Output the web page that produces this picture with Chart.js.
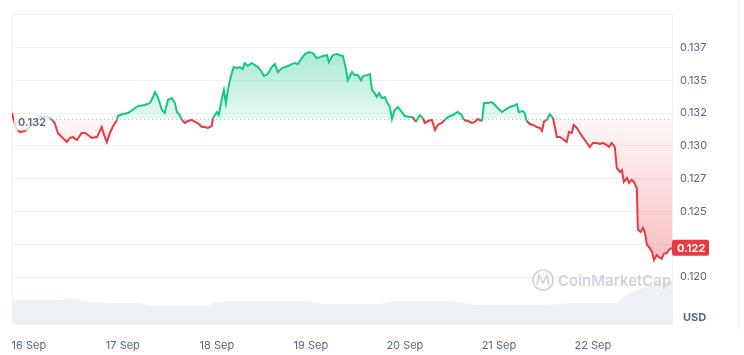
<!DOCTYPE html>
<html lang="en">
  <head>
    <meta charset="UTF-8" />
    <meta name="viewport" content="width=device-width, initial-scale=1.0" />
    <title>Price chart</title>
    <style>
      html, body { margin: 0; padding: 0; background: #fff; }
    </style>
  </head>
  <body>
    <canvas id="myChart" width="744" height="355"></canvas>
  </body>
</html>
<script src="https://cdn.jsdelivr.net/npm/chart.js"></script>

<script>
  // hours counted from 15 Sep 00:00
  const hours = [
    19.7, 20.7, 21.7, 23.0, 24.3, 25.8, 26.8, 28.1, 28.9, 29.9,
    30.6, 31.4, 32.4, 33.7, 34.5, 35.2, 36.3, 37.5, 38.3, 39.1,
    40.1, 41.4, 42.6, 43.2, 43.9, 44.7, 45.4, 46.5, 46.7, 48.0,
    49.3, 50.5, 51.8, 53.6, 54.9, 55.7, 56.2, 56.9, 58.0, 58.7,
    59.5, 60.5, 61.3, 61.8, 62.5, 63.1, 63.8, 64.6, 65.6, 66.4,
    67.1, 68.2, 68.9, 69.7, 70.7, 71.0, 72.0, 72.5, 73.3, 73.8,
    74.3, 74.8, 75.8, 76.3, 77.1, 77.9, 78.6, 79.1, 79.9, 80.9,
    81.7, 82.5, 83.5, 84.0, 85.0, 86.0, 86.8, 87.6, 88.6, 89.4,
    90.1, 91.1, 91.9, 92.7, 93.7, 94.5, 95.5, 96.5, 97.5, 98.3,
    99.1, 100.1, 100.6, 101.6, 102.6, 103.4, 104.2, 104.9, 105.4, 106.5,
    107.2, 108.0, 108.8, 109.3, 110.3, 111.1, 111.6, 112.3, 112.8, 113.4,
    114.1, 114.9, 115.4, 116.2, 116.7, 117.4, 118.2, 119.2, 120.0, 121.3,
    122.0, 122.8, 123.8, 124.6, 125.1, 125.9, 126.9, 127.7, 128.4, 129.4,
    130.2, 131.0, 132.2, 133.5, 134.5, 135.1, 136.1, 137.1, 137.9, 138.6,
    139.7, 140.2, 141.2, 142.2, 143.0, 143.7, 144.8, 145.5, 146.8, 147.6,
    148.6, 149.1, 150.1, 150.6, 151.1, 151.9, 152.7, 153.7, 154.5, 155.0,
    155.5, 156.2, 157.0, 157.8, 158.3, 158.8, 159.6, 160.3, 161.3, 161.9,
    162.6, 163.1, 163.9, 164.7, 165.4, 166.5, 167.2, 168.0, 169.0, 169.8,
    170.5, 171.6, 172.1, 172.8, 173.6, 174.1, 174.9, 175.4, 175.9, 176.7,
    177.2, 177.9, 178.5, 179.2, 179.5, 180.2, 180.8, 181.3, 181.8, 182.3,
    183.1, 183.6, 184.3, 184.8, 185.6, 186.1, 186.9, 187.4, 188.2
  ];
  const prices = [
    0.13250, 0.13136, 0.13105, 0.13113, 0.13143, 0.13189, 0.13220, 0.13220, 0.13220, 0.13197,
    0.13174, 0.13098, 0.13067, 0.13029, 0.13060, 0.13067, 0.13045, 0.13098, 0.13098, 0.13083,
    0.13060, 0.13067, 0.13143, 0.13083, 0.13029, 0.13098, 0.13143, 0.13197, 0.13227, 0.13242,
    0.13250, 0.13273, 0.13303, 0.13311, 0.13326, 0.13372, 0.13410, 0.13372, 0.13273, 0.13250,
    0.13349, 0.13364, 0.13326, 0.13258, 0.13235, 0.13197, 0.13174, 0.13189, 0.13197, 0.13182,
    0.13174, 0.13143, 0.13143, 0.13136, 0.13151, 0.13212, 0.13258, 0.13235, 0.13364, 0.13425,
    0.13326, 0.13425, 0.13554, 0.13600, 0.13592, 0.13600, 0.13585, 0.13631, 0.13608, 0.13631,
    0.13615, 0.13600, 0.13562, 0.13532, 0.13547, 0.13600, 0.13623, 0.13562, 0.13592, 0.13600,
    0.13608, 0.13623, 0.13631, 0.13623, 0.13669, 0.13699, 0.13714, 0.13707, 0.13669, 0.13676,
    0.13684, 0.13691, 0.13638, 0.13691, 0.13699, 0.13691, 0.13684, 0.13592, 0.13501, 0.13562,
    0.13539, 0.13539, 0.13501, 0.13532, 0.13539, 0.13547, 0.13425, 0.13402, 0.13372, 0.13402,
    0.13364, 0.13372, 0.13334, 0.13296, 0.13204, 0.13273, 0.13296, 0.13258, 0.13227, 0.13220,
    0.13220, 0.13182, 0.13235, 0.13212, 0.13174, 0.13189, 0.13197, 0.13121, 0.13159, 0.13174,
    0.13197, 0.13220, 0.13235, 0.13258, 0.13235, 0.13197, 0.13189, 0.13174, 0.13182, 0.13204,
    0.13189, 0.13326, 0.13326, 0.13334, 0.13311, 0.13288, 0.13258, 0.13273, 0.13296, 0.13303,
    0.13318, 0.13258, 0.13265, 0.13250, 0.13189, 0.13166, 0.13159, 0.13143, 0.13136, 0.13113,
    0.13182, 0.13197, 0.13242, 0.13212, 0.13143, 0.13067, 0.13067, 0.13052, 0.13029, 0.13105,
    0.13098, 0.13159, 0.13136, 0.13098, 0.13067, 0.13022, 0.12991, 0.13022, 0.13022, 0.13014,
    0.13022, 0.13006, 0.12991, 0.13022, 0.12991, 0.12831, 0.12801, 0.12816, 0.12725, 0.12755,
    0.12717, 0.12740, 0.12725, 0.12679, 0.12360, 0.12344, 0.12375, 0.12337, 0.12245, 0.12230,
    0.12192, 0.12131, 0.12169, 0.12154, 0.12139, 0.12177, 0.12185, 0.12207, 0.12223
  ];

  const volHours = [19.7, 32.4, 34.7, 37.8, 44.4, 52.3, 54.9, 70.0, 71.2, 77.1, 95.2, 99.1,
    113.6, 117.2, 131.7, 137.9, 156.0, 162.1, 174.1, 177.4, 181.3, 185.1, 188.2];
  const volumes = [25, 25, 27, 24, 22, 22, 19, 19, 23, 24, 24, 21,
    21, 24, 24, 20, 20, 22, 22, 32, 38, 43, 44];

  const dayTicks = [24, 48, 72, 96, 120, 144, 168];
  const dayLabels = ["16 Sep", "17 Sep", "18 Sep", "19 Sep", "20 Sep", "21 Sep", "22 Sep"];

  const yTicks = [0.12, 0.1225, 0.125, 0.1275, 0.13, 0.1325, 0.135, 0.1375, 0.14];
  const yLabels = ["0.120", "", "0.125", "0.127", "0.130", "0.132", "0.135", "0.137", ""];

  const basePrice = 0.13202;
  const baseLabel = "0.132";
  const lastLabel = "0.122";

  const green = "#16c784";
  const red = "#ea3943";
  const grey = "#58667e";
  const font = "Inter, 'Noto Sans', sans-serif";

  Chart.defaults.font.family = font;

  const overlay = {
    id: "overlay",
    beforeDatasetsDraw(chart) {
      const { ctx, chartArea: a, scales } = chart;
      const by = Math.round(scales.y.getPixelForValue(basePrice)) + 0.5;
      ctx.save();
      ctx.strokeStyle = "#eff2f5";
      ctx.lineWidth = 1;
      ctx.beginPath();
      ctx.moveTo(a.left + 0.5, a.top);
      ctx.lineTo(a.left + 0.5, a.bottom);
      ctx.moveTo(738.5, 0);
      ctx.lineTo(738.5, 330);
      ctx.stroke();
      ctx.strokeStyle = "#b8c0cf";
      ctx.setLineDash([1, 3]);
      ctx.beginPath();
      ctx.moveTo(a.left, by);
      ctx.lineTo(a.right, by);
      ctx.stroke();
      ctx.restore();
    },
    afterDatasetsDraw(chart) {
      const { ctx, chartArea: a, scales } = chart;
      const by = scales.y.getPixelForValue(basePrice);
      const ly = scales.y.getPixelForValue(prices[prices.length - 1]);
      ctx.save();

      // base price label on the left
      ctx.font = "600 11px " + font;
      const w = ctx.measureText(baseLabel).width;
      ctx.fillStyle = "rgba(255,255,255,0.75)";
      ctx.fillRect(a.left + 2, by - 5, w + 8, 16);
      ctx.fillStyle = grey;
      ctx.textBaseline = "middle";
      ctx.fillText(baseLabel, a.left + 6, by + 3);

      // watermark
      ctx.strokeStyle = "#cfd4dc";
      ctx.lineWidth = 1.6;
      ctx.beginPath();
      ctx.arc(543, 280, 10, 0, Math.PI * 2);
      ctx.stroke();
      ctx.beginPath();
      ctx.moveTo(537, 285);
      ctx.lineTo(539, 275);
      ctx.lineTo(543, 283);
      ctx.lineTo(547, 275);
      ctx.lineTo(549, 285);
      ctx.stroke();
      ctx.fillStyle = "#cfd4dc";
      ctx.font = "600 15px " + font;
      ctx.textAlign = "left";
      ctx.fillText("CoinMarketCap", 558, 281);

      // current price badge
      ctx.fillStyle = red;
      ctx.beginPath();
      ctx.roundRect(a.right, ly - 8, 37, 16, 2);
      ctx.fill();
      ctx.fillStyle = "#fff";
      ctx.font = "700 11px " + font;
      ctx.fillText(lastLabel, a.right + 5, ly + 0.5);

      // unit
      ctx.fillStyle = grey;
      ctx.font = "700 11px " + font;
      ctx.fillText("USD", a.right + 11, 318);
      ctx.restore();
    },
  };

  const ctx = document.getElementById("myChart").getContext("2d");
  const myChart = new Chart(ctx, {
    type: "line",
    data: {
      datasets: [
        {
          data: hours.map((h, i) => ({ x: h, y: prices[i] })),
          yAxisID: "y",
          borderColor: green,
          borderWidth: 2,
          pointRadius: 0,
          tension: 0,
          order: 1,
          segment: {
            borderColor: (s) => ((s.p0.parsed.y + s.p1.parsed.y) / 2 >= basePrice ? green : red),
          },
          fill: (c) => {
            const chart = c.chart;
            const a = chart.chartArea;
            const y = chart.scales.y;
            if (!a || !y) {
              return { value: basePrice, above: "rgba(22,199,132,0.2)", below: "rgba(234,57,67,0.1)" };
            }
            const by = y.getPixelForValue(basePrice);
            const g = chart.ctx.createLinearGradient(0, a.top + 30, 0, by);
            g.addColorStop(0, "rgba(22,199,132,0.40)");
            g.addColorStop(1, "rgba(22,199,132,0.10)");
            const r = chart.ctx.createLinearGradient(0, by, 0, y.getPixelForValue(Math.min(...prices)));
            r.addColorStop(0, "rgba(234,57,67,0.04)");
            r.addColorStop(1, "rgba(234,57,67,0.32)");
            return { value: basePrice, above: g, below: r };
          },
        },
        {
          data: volHours.map((h, i) => ({ x: h, y: volumes[i] })),
          yAxisID: "v",
          borderWidth: 0,
          pointRadius: 0,
          backgroundColor: "#eef1f5",
          fill: "origin",
          order: 2,
        },
      ],
    },
    options: {
      responsive: false,
      animation: false,
      layout: { padding: { left: 12, top: 14, right: 0, bottom: 0 } },
      plugins: { legend: { display: false }, tooltip: { enabled: false } },
      scales: {
        x: {
          type: "linear",
          min: hours[0],
          max: hours[hours.length - 1],
          grid: { display: false },
          border: { display: false },
          afterBuildTicks: (axis) => {
            axis.ticks = dayTicks.map((v) => ({ value: v }));
          },
          afterFit: (axis) => {
            axis.height = 30;
          },
          ticks: {
            autoSkip: false,
            maxRotation: 0,
            padding: 6,
            color: grey,
            font: { size: 11 },
            callback: (v, i) => dayLabels[i],
          },
        },
        y: {
          position: "right",
          min: 0.11635,
          max: 0.14,
          grid: { color: "#eff2f5", drawTicks: false },
          border: { display: true, color: "#eff2f5" },
          afterBuildTicks: (axis) => {
            axis.ticks = yTicks.map((v) => ({ value: v }));
          },
          afterFit: (axis) => {
            axis.width = 72;
          },
          ticks: {
            padding: 8,
            color: grey,
            font: { size: 11 },
            callback: (v, i) => yLabels[i],
          },
        },
        v: {
          display: false,
          min: 0,
          max: 311,
        },
      },
    },
    plugins: [overlay],
  });
</script>
